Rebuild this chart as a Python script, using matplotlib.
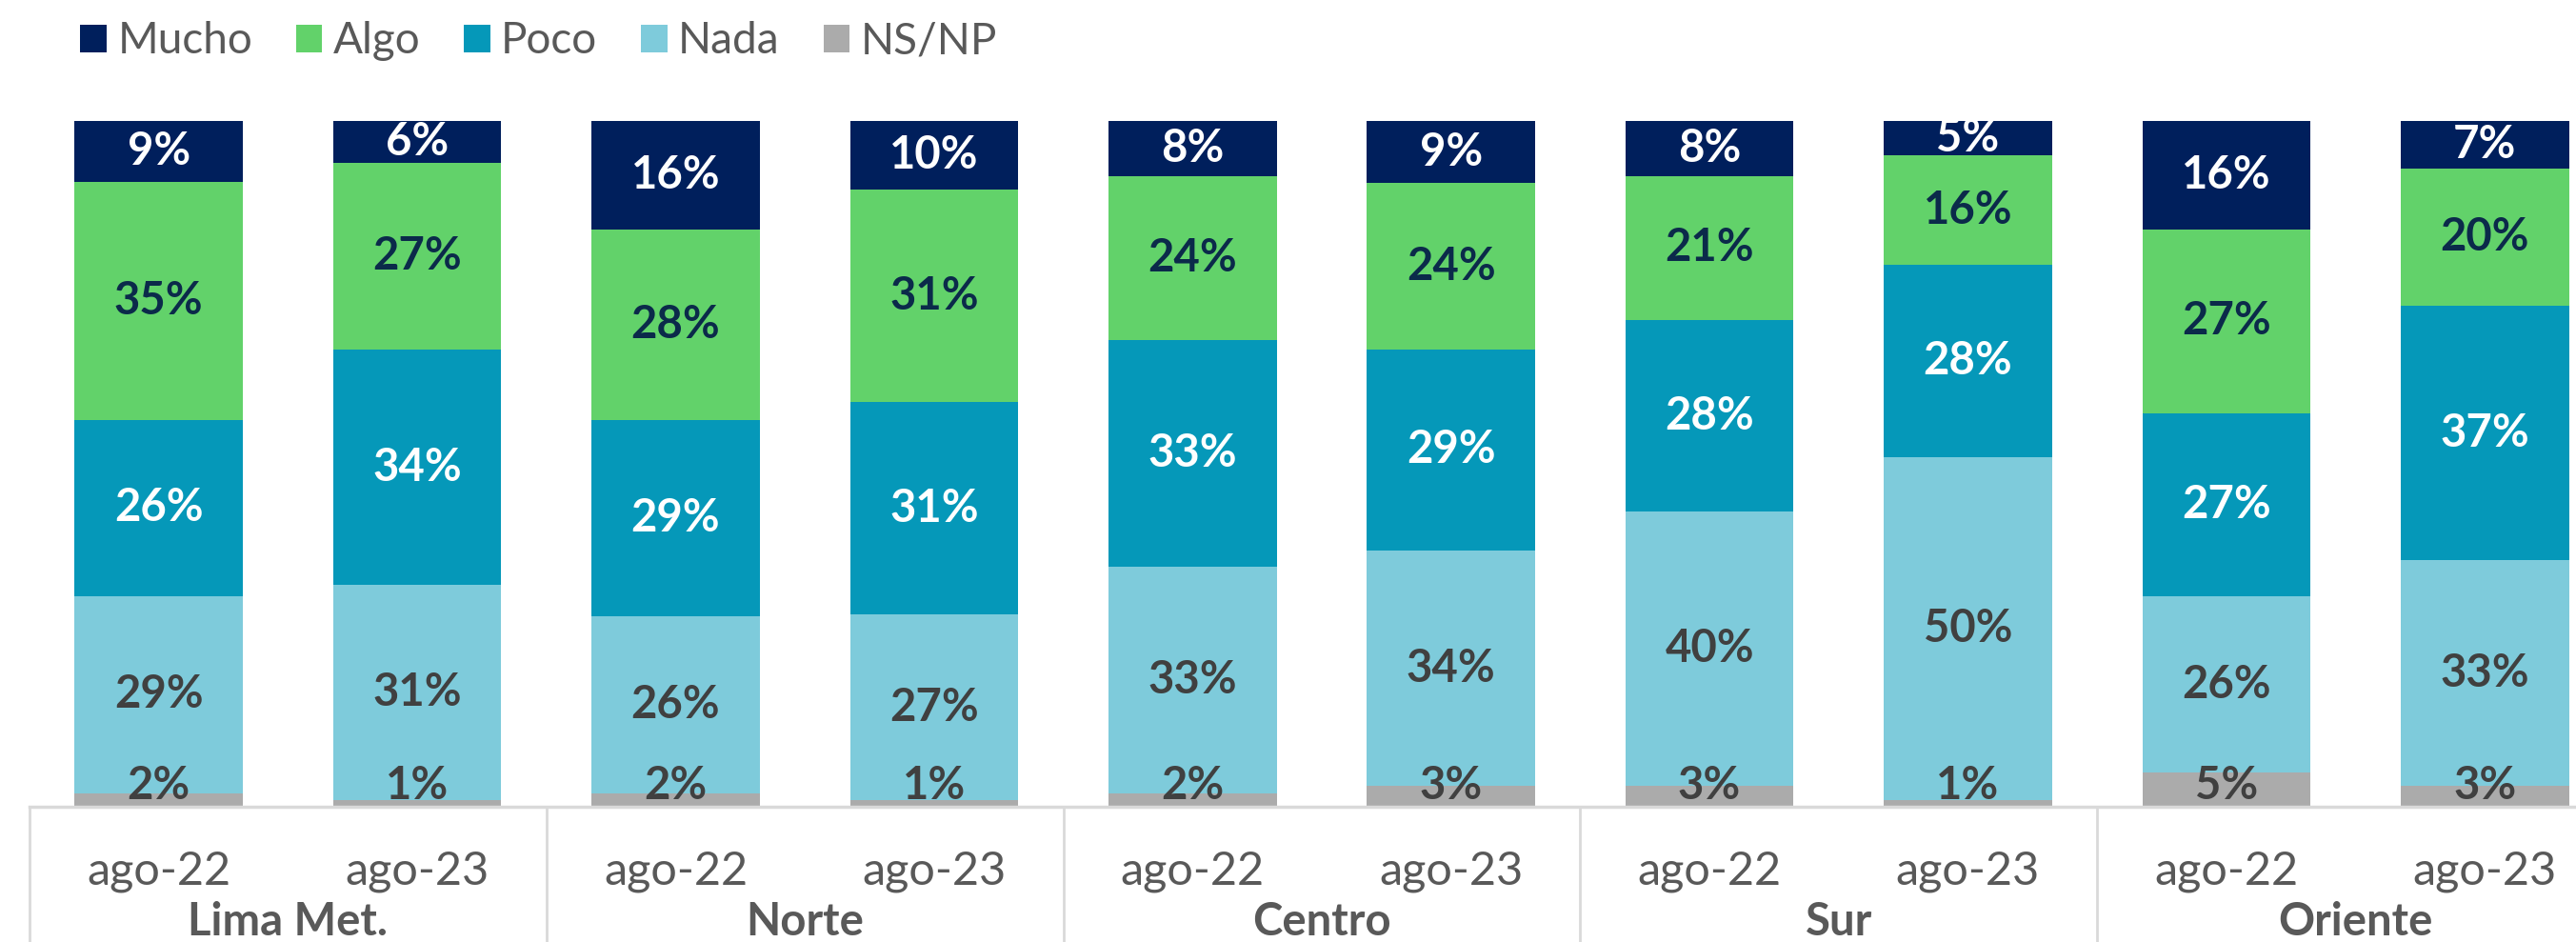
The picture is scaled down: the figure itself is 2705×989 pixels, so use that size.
import matplotlib.pyplot as plt
import matplotlib.transforms as mtransforms
import numpy as np

plt.rcParams['font.family'] = ['Lato', 'DejaVu Sans']

regions = ['Lima Met.', 'Norte', 'Centro', 'Sur', 'Oriente']
periods = ['ago-22', 'ago-23']

# stacked from the bottom up
series = ['NS/NP', 'Nada', 'Poco', 'Algo', 'Mucho']
ns_np = [2, 1, 2, 1, 2, 3, 3, 1, 5, 3]
nada = [29, 31, 26, 27, 33, 34, 40, 50, 26, 33]
poco = [26, 34, 29, 31, 33, 29, 28, 28, 27, 37]
algo = [35, 27, 28, 31, 24, 24, 21, 16, 27, 20]
mucho = [9, 6, 16, 10, 8, 9, 8, 5, 16, 7]

colors = {'Mucho': '#001F5C', 'Algo': '#62D26A', 'Poco': '#0598B9',
          'Nada': '#7ECBDB', 'NS/NP': '#ABABAB'}
label_colors = {'Mucho': 'white', 'Algo': '#0B2A4A', 'Poco': 'white',
                'Nada': '#404040', 'NS/NP': '#404040'}
values = {'NS/NP': ns_np, 'Nada': nada, 'Poco': poco, 'Algo': algo, 'Mucho': mucho}

W, H = 2705, 989
fig = plt.figure(figsize=(W / 100, H / 100), dpi=100)
# axes in pixel terms: baseline at y=847, 100% at y=127, x slots of 271.4 px
left_px, slot = 31, 271.4
ax = fig.add_axes([left_px / W, 1 - 847 / H, 10 * slot / W, (847 - 127) / H])

x = np.arange(len(ns_np))
# rounded labels don't always add to 100, the bars are full-height stacks
totals = np.sum([values[s] for s in series], axis=0).astype(float)
bottom = np.zeros(len(x))
handles = {}
for s in series:
    v = np.array(values[s], dtype=float)
    h = v * 100 / totals
    bars = ax.bar(x, h, bottom=bottom, width=0.65, color=colors[s],
                  edgecolor='none', clip_on=False, label=s)
    handles[s] = bars
    for xi, b, hh, val in zip(x, bottom, h, v):
        y = 3.0 if s == 'NS/NP' else b + hh / 2
        ax.text(xi, y, f'{int(val)}%', ha='center', va='center',
                fontsize=34, fontweight='bold', color=label_colors[s])
    bottom += h

ax.set_xlim(-0.5, 9.5)
ax.set_ylim(0, 100)
for sp in ax.spines.values():
    sp.set_visible(False)
ax.set_yticks([])
ax.set_xticks(x)
ax.set_xticklabels(periods * len(regions), fontsize=35, color='#595959')
ax.tick_params(axis='x', length=0, pad=33)

# baseline and group separators
ax.plot([-0.5, 9.5], [0, 0], color='#D9D9D9', lw=2.5, clip_on=False)
trans = mtransforms.blended_transform_factory(ax.transData, fig.transFigure)
for gx in [-0.5, 1.5, 3.5, 5.5, 7.5]:
    ax.plot([gx, gx], [1 - 847 / H, 0], color='#D9D9D9', lw=2,
            transform=trans, clip_on=False)
for i, r in enumerate(regions):
    ax.text(2 * i + 0.5, 1 - 968 / H, r, transform=trans, ha='center',
            va='center', fontsize=34, fontweight='bold', color='#595959')

leg = fig.legend([handles[s] for s in ['Mucho', 'Algo', 'Poco', 'Nada', 'NS/NP']],
                 ['Mucho', 'Algo', 'Poco', 'Nada', 'NS/NP'],
                 loc='upper left', bbox_to_anchor=(66 / W, 1 - 4 / H), ncol=5,
                 frameon=False, fontsize=33, handlelength=0.6, handleheight=0.6,
                 handletextpad=0.25, columnspacing=1.0, borderaxespad=0)
for t in leg.get_texts():
    t.set_color('#595959')

fig.savefig('out.png', dpi=100)
